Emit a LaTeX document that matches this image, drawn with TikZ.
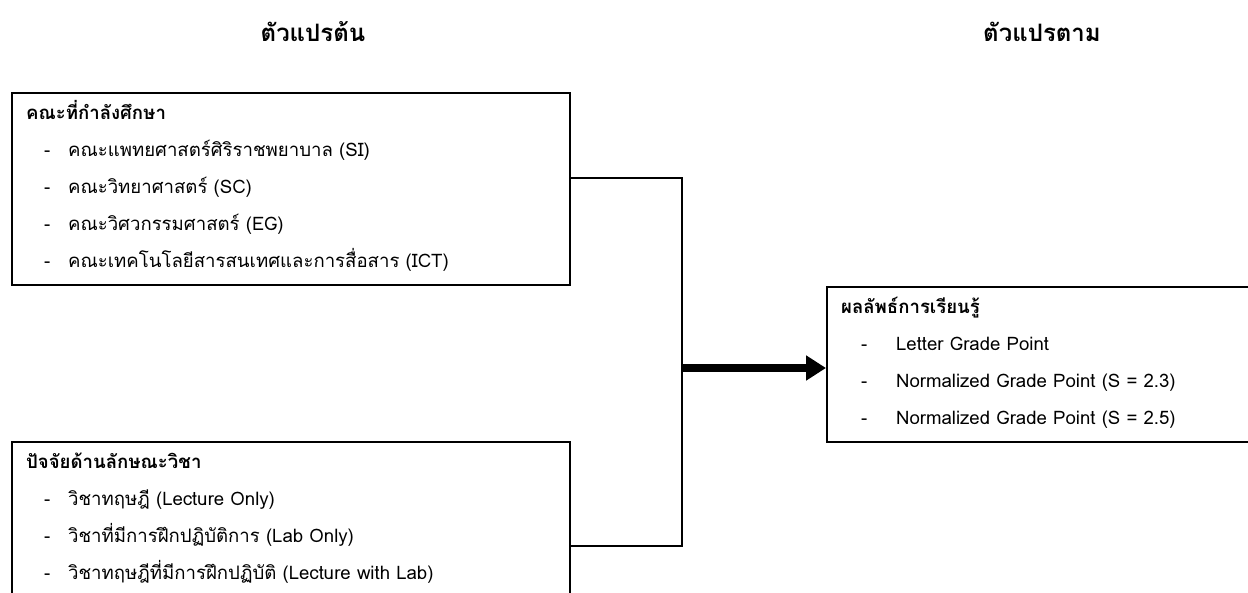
\documentclass[tikz,border=0pt]{standalone}
\usepackage{fontspec}
\setmainfont[Script=Thai]{Loma}
\usetikzlibrary{arrows.meta}
\newcommand{\itm}[3]{\makebox[#2][l]{\hspace*{#1}-}#3}

\begin{document}
\begin{tikzpicture}[
  x=0.5pt,y=-0.5pt,
  head/.style={font=\fontsize{12}{14}\selectfont\bfseries,anchor=base},
  box/.style={rectangle,draw=black,line width=1.1pt,anchor=north west,align=left,inner xsep=7pt,inner ysep=0pt,font=\fontsize{9.3}{18.5}\selectfont},
  link/.style={line width=0.6pt},
  arr/.style={-{Triangle[length=10pt,width=12pt]},line width=3.5pt}
]
\path[use as bounding box,clip] (0,0) rectangle (1248,593);
\node[head] (indep) at (313,42) {ตัวแปรต้น};
\node[head] (dep) at (1042,42) {ตัวแปรตาม};
\node[box,text width=265pt] (faculty) at (11,92) {\rule{0pt}{13pt}\textbf{คณะที่กำลังศึกษา}\\
  \itm{9pt}{21pt}{คณะแพทยศาสตร์ศิริราชพยาบาล (SI)}\\
  \itm{9pt}{21pt}{คณะวิทยาศาสตร์ (SC)}\\
  \itm{9pt}{21pt}{คณะวิศวกรรมศาสตร์ (EG)}\\
  \itm{9pt}{21pt}{คณะเทคโนโลยีสารสนเทศและการสื่อสาร (ICT)}\rule[-9pt]{0pt}{9pt}};
\node[box,text width=265pt] (subject) at (11,441) {\rule{0pt}{13pt}\textbf{ปัจจัยด้านลักษณะวิชา}\\
  \itm{9pt}{21pt}{วิชาทฤษฎี (Lecture Only)}\\
  \itm{9pt}{21pt}{วิชาที่มีการฝึกปฏิบัติการ (Lab Only)}\\
  \itm{9pt}{21pt}{วิชาทฤษฎีที่มีการฝึกปฏิบัติ (Lecture with Lab)}\rule[-9pt]{0pt}{9pt}};
\node[box,text width=230pt] (outcome) at (826,286) {\rule{0pt}{13pt}\textbf{ผลลัพธ์การเรียนรู้}\\
  \itm{10pt}{27.5pt}{Letter Grade Point}\\
  \itm{10pt}{27.5pt}{Normalized Grade Point (S = 2.3)}\\
  \itm{10pt}{27.5pt}{Normalized Grade Point (S = 2.5)}\rule[-9pt]{0pt}{9pt}};
\coordinate (jtop) at (682,178);
\coordinate (jmid) at (682,368);
\coordinate (jbot) at (682,546);
\draw[link] (faculty.east |- jtop) -- (jtop) -- (jbot) -- (subject.east |- jbot);
\draw[arr] (jmid) -- (outcome.west |- jmid);
\end{tikzpicture}
\end{document}
